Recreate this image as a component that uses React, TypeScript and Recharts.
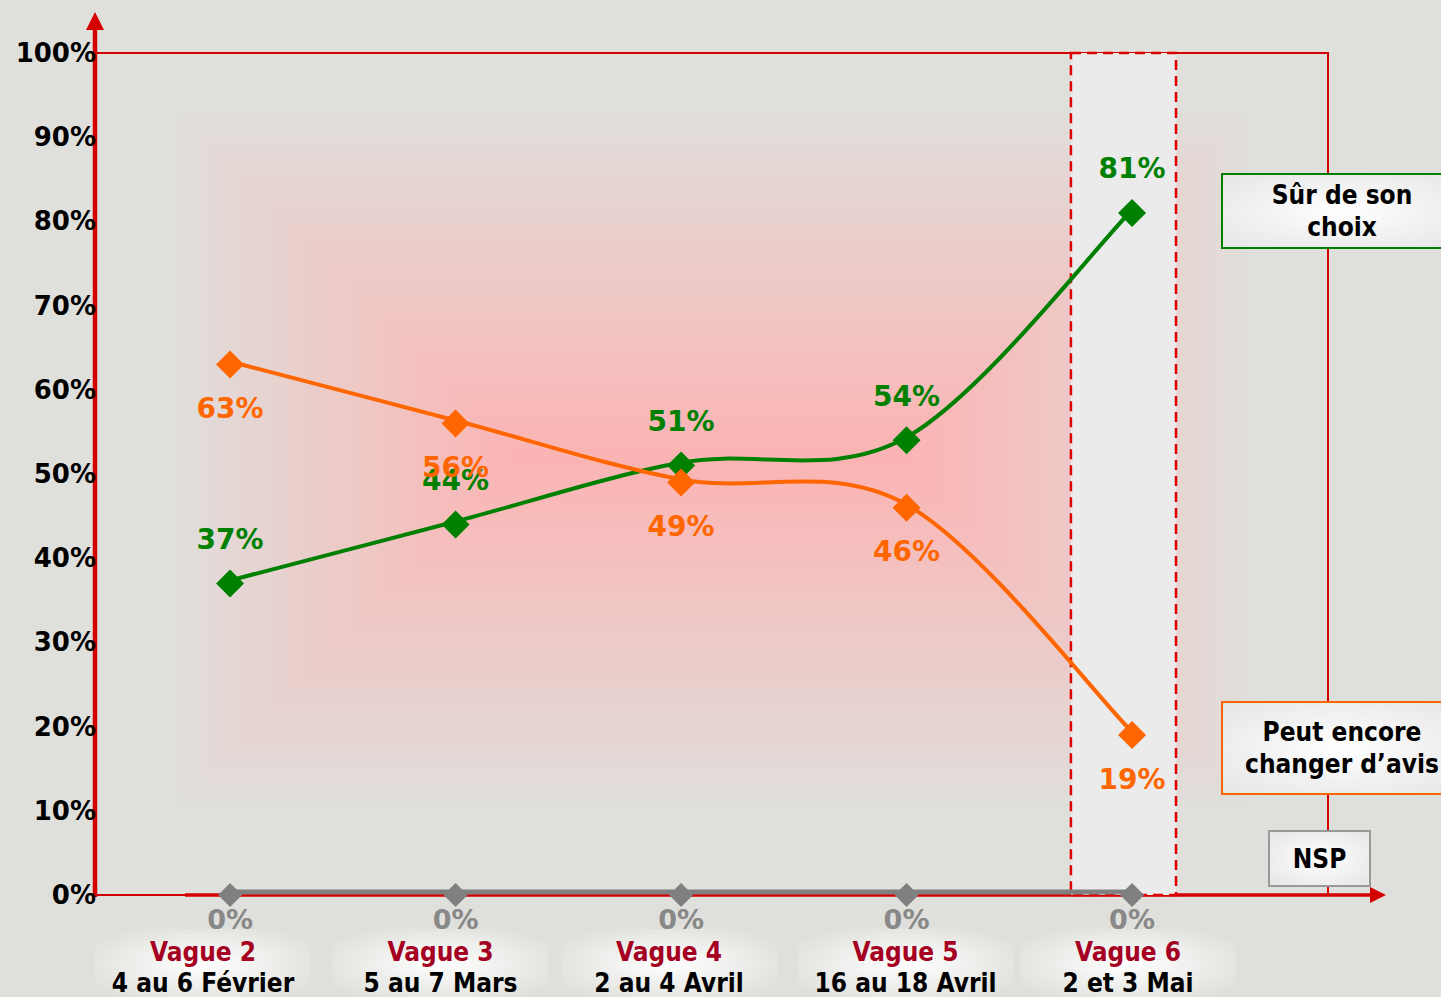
import React from 'react';
import { LineChart, Line, XAxis, YAxis, LabelList, ReferenceArea } from 'recharts';

const WAVES = ['Vague 2', 'Vague 3', 'Vague 4', 'Vague 5', 'Vague 6'];
const DATES = ['4 au 6 Février', '5 au 7 Mars', '2 au 4 Avril', '16 au 18 Avril', '2 et 3 Mai'];
const SUR = [37, 44, 51, 54, 81];
const PEUT = [63, 56, 49, 46, 19];
const NSP = [0, 0, 0, 0, 0];
const Y_TICKS = [0, 10, 20, 30, 40, 50, 60, 70, 80, 90, 100];

const FONT = "'DejaVu Sans Condensed', 'DejaVu Sans', sans-serif";
const WIDE_FONT = "'DejaVu Sans', sans-serif";
const GREEN = '#008000';
const ORANGE = '#ff6600';
const GREY = '#808080';
const RED = '#d40000';
const BG = '#dfdfdb';

// small nudge of each category label relative to its point
const LABEL_SHIFT = [-27, -15, -12, -1, -4];

const data = WAVES.map((w, i) => ({ idx: i, sur: SUR[i], peut: PEUT[i], nsp: NSP[i] }));

// excel-like smoothing (uniform catmull-rom through the points)
const smoothCurve = (context: any) => {
  let pts: number[][] = [];
  return {
    areaStart() {},
    areaEnd() {},
    lineStart() { pts = []; },
    point(x: number, y: number) { pts.push([+x, +y]); },
    lineEnd() {
      const n = pts.length;
      if (!n) return;
      context.moveTo(pts[0][0], pts[0][1]);
      for (let i = 0; i < n - 1; i++) {
        const p0 = pts[i - 1] || pts[i];
        const p1 = pts[i];
        const p2 = pts[i + 1];
        const p3 = pts[i + 2] || p2;
        context.bezierCurveTo(
          p1[0] + (p2[0] - p0[0]) / 6, p1[1] + (p2[1] - p0[1]) / 6,
          p2[0] - (p3[0] - p1[0]) / 6, p2[1] - (p3[1] - p1[1]) / 6,
          p2[0], p2[1]
        );
      }
    },
  };
};

const diamond = (color: string, r: number) => (p: any) => {
  const { cx, cy, index } = p;
  return (
    <path key={`d-${index}`} d={`M${cx},${cy - r} L${cx + r},${cy} L${cx},${cy + r} L${cx - r},${cy} Z`} fill={color} />
  );
};

const valueLabel = (color: string, dy: number, size: number) => (p: any) => {
  const { x, y, value, index } = p;
  return (
    <text key={`l-${index}`} x={x} y={y + dy} textAnchor="middle" dominantBaseline="central"
      fill={color} fontSize={size} fontWeight="bold" style={{ fontFamily: WIDE_FONT }}>
      {value}%
    </text>
  );
};

const CategoryTick = (props: any) => {
  const { x, payload } = props;
  const i = payload.value;
  const cx = x + LABEL_SHIFT[i];
  return (
    <g>
      <rect x={cx - 108} y={929} width={216} height={70} fill="url(#catBg)" />
      <text x={cx} y={952} textAnchor="middle" dominantBaseline="central" fill="#a50021"
        fontSize={26} fontWeight="bold" style={{ fontFamily: FONT }}>{WAVES[i]}</text>
      <text x={cx} y={983} textAnchor="middle" dominantBaseline="central" fill="#000"
        fontSize={26} fontWeight="bold" style={{ fontFamily: FONT }}>{DATES[i]}</text>
    </g>
  );
};

const PercentTick = (props: any) => {
  const { y, payload } = props;
  return (
    <text x={96} y={y} textAnchor="end" dominantBaseline="central" fill="#000"
      fontSize={26} fontWeight="bold" style={{ fontFamily: WIDE_FONT }}>{payload.value}%</text>
  );
};

// pink rectangular glow behind the plot
const glowRects = () => {
  const steps = 40;
  const x0 = 165, x1 = 1260, y0 = 100, y1 = 815;
  const maxInset = (y1 - y0) / 2;
  const c0 = [0xdf, 0xdf, 0xdb];
  const c1 = [0xfb, 0xb4, 0xb4];
  const out = [];
  for (let k = 0; k < steps; k++) {
    const t = k / (steps - 1);
    const d = (k / steps) * maxInset;
    const col = c0.map((c, j) => Math.round(c + (c1[j] - c) * t));
    out.push(
      <rect key={k} x={x0 + d} y={y0 + d} width={x1 - x0 - 2 * d} height={y1 - y0 - 2 * d}
        fill={`rgb(${col.join(',')})`} />
    );
  }
  return out;
};

const boxStyle = (border: string): React.CSSProperties => ({
  position: 'absolute',
  boxSizing: 'border-box',
  border: `2px solid ${border}`,
  background: 'radial-gradient(ellipse at center, #ffffff 0%, #f3f3f3 45%, #e6e6e6 100%)',
  display: 'flex',
  alignItems: 'center',
  justifyContent: 'center',
  textAlign: 'center',
  fontFamily: FONT,
  fontWeight: 'bold',
  fontSize: 26,
  lineHeight: '32px',
  color: '#000',
});

export default function App() {
  return (
    <div style={{ position: 'absolute', left: 0, top: 0, width: 1441, height: 997, overflow: 'hidden', background: BG, fontFamily: FONT }}>
      <style>{`.series-up { transform: translateY(-3px); }`}</style>
      <svg width={1441} height={997} style={{ position: 'absolute', left: 0, top: 0 }}>
        <defs>
          <radialGradient id="catBg" cx="50%" cy="50%" r="60%">
            <stop offset="0%" stopColor="#ffffff" />
            <stop offset="100%" stopColor={BG} />
          </radialGradient>
        </defs>
        {glowRects()}
        <rect x={95} y={53} width={1233} height={842} fill="none" stroke={RED} strokeWidth={2} />
        <line x1={185} y1={895} x2={1372} y2={895} stroke={RED} strokeWidth={3.5} />
        <path d="M1386,895 L1370,887 L1370,903 Z" fill={RED} />
        <line x1={95} y1={897} x2={95} y2={30} stroke={RED} strokeWidth={4.5} />
        <path d="M95,12 L86,30 L104,30 Z" fill={RED} />
      </svg>
      <LineChart width={1441} height={997} data={data}
        margin={{ top: 53, right: 113, bottom: 0, left: 0 }}
        style={{ position: 'absolute', left: 0, top: 0 }}>
        <XAxis type="number" dataKey="idx" domain={[-0.599, 4.869]} allowDataOverflow
          ticks={[0, 1, 2, 3, 4]} tick={<CategoryTick />} axisLine={false} tickLine={false} height={102} interval={0} />
        <YAxis type="number" domain={[0, 100]} ticks={Y_TICKS} tick={<PercentTick />} axisLine={false} tickLine={false} width={95} interval={0} />
        <ReferenceArea x1={3.729} x2={4.195} y1={0} y2={100} fill="#ebebeb" fillOpacity={1}
          stroke="#dd0000" strokeWidth={2.5} strokeDasharray="10 6" ifOverflow="visible" />
        <Line className="series-up" dataKey="nsp" stroke={GREY} strokeWidth={5} type={smoothCurve as any}
          dot={diamond(GREY, 12)} activeDot={false} isAnimationActive={false}>
          <LabelList dataKey="nsp" content={valueLabel('#888888', 24, 27)} />
        </Line>
        <Line className="series-up" dataKey="sur" stroke={GREEN} strokeWidth={4} type={smoothCurve as any}
          dot={diamond(GREEN, 14)} activeDot={false} isAnimationActive={false}>
          <LabelList dataKey="sur" content={valueLabel(GREEN, -44, 28)} />
        </Line>
        <Line className="series-up" dataKey="peut" stroke={ORANGE} strokeWidth={4} type={smoothCurve as any}
          dot={diamond(ORANGE, 14)} activeDot={false} isAnimationActive={false}>
          <LabelList dataKey="peut" content={valueLabel(ORANGE, 44, 28)} />
        </Line>
      </LineChart>
      <div style={{ ...boxStyle(GREEN), left: 1221, top: 173, width: 242, height: 76 }}>
        Sûr de son<br />choix
      </div>
      <div style={{ ...boxStyle(ORANGE), left: 1221, top: 701, width: 242, height: 94 }}>
        Peut encore<br />changer d’avis
      </div>
      <div style={{ ...boxStyle('#999999'), left: 1268, top: 830, width: 103, height: 57 }}>
        NSP
      </div>
    </div>
  );
}
